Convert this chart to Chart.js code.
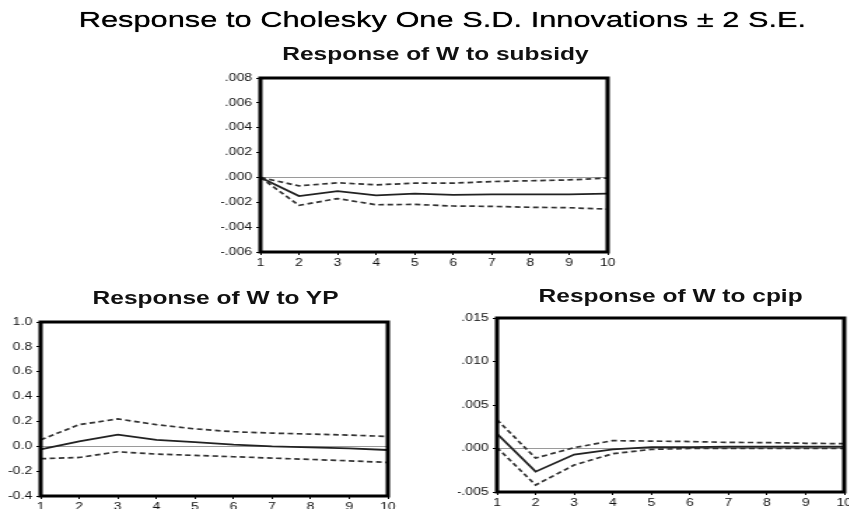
<!DOCTYPE html>
<html>
<head>
<meta charset="utf-8">
<script src="https://cdn.jsdelivr.net/npm/chart.js@4"></script>
<style>
  html, body { margin: 0; padding: 0; background: #fff; overflow: hidden; }
  #fig {
    position: absolute; left: 0; top: 0; width: 607px; height: 509px;
    transform: scaleX(1.4); transform-origin: 0 0; overflow: hidden;
    font-family: "Liberation Sans", Arial, sans-serif; color: #000;
  }
  .ttl { position: absolute; width: 600px; text-align: center; white-space: nowrap; }
  #main { font-size: 22px; line-height: 22px; text-shadow: 0 0 0.6px #000; }
  .sub { font-size: 17.5px; line-height: 17.5px; font-weight: bold; color: #111; }
  .box { position: absolute; width: 292px; height: 200px; }
</style>
</head>
<body>
<div id="fig">
  <div class="ttl" id="main" style="left:16px; top:9px;">Response to Cholesky One S.D. Innovations ± 2 S.E.</div>
  <div class="ttl sub" style="left:11px; top:46px;">Response of W to subsidy</div>
  <div class="ttl sub" style="left:-146px; top:290px;">Response of W to YP</div>
  <div class="ttl sub" style="left:179px; top:288px;">Response of W to cpip</div>
  <div class="box" style="left:158px; top:70px;"><canvas id="subsidy-chart" width="292" height="200"></canvas></div>
  <div class="box" style="left:1px; top:314px;"><canvas id="yp-chart" width="292" height="200"></canvas></div>
  <div class="box" style="left:327px; top:310px;"><canvas id="cpip-chart" width="292" height="200"></canvas></div>
</div>
<script>
const periods = ["1", "2", "3", "4", "5", "6", "7", "8", "9", "10"];

// Response of W to subsidy
const subsidyResp = [0, -0.0015, -0.0011, -0.00144, -0.0013, -0.0014, -0.00136, -0.00136, -0.00136, -0.0013];
const subsidyUpper = [0, -0.00068, -0.00043, -0.0006, -0.00046, -0.00046, -0.00033, -0.00027, -0.0002, -0.00005];
const subsidyLower = [0, -0.00225, -0.0017, -0.0022, -0.00217, -0.0023, -0.00233, -0.0024, -0.00244, -0.00255];
const subsidyTicks = [-0.006, -0.004, -0.002, 0, 0.002, 0.004, 0.006, 0.008];
const subsidyTickLabels = ["-.006", "-.004", "-.002", ".000", ".002", ".004", ".006", ".008"];

// Response of W to YP
const ypResp = [-0.025, 0.04, 0.093, 0.052, 0.033, 0.014, 0.0, -0.008, -0.016, -0.03];
const ypUpper = [0.052, 0.174, 0.22, 0.174, 0.14, 0.117, 0.106, 0.098, 0.09, 0.079];
const ypLower = [-0.1, -0.09, -0.044, -0.063, -0.073, -0.084, -0.095, -0.106, -0.117, -0.13];
const ypTicks = [-0.4, -0.2, 0, 0.2, 0.4, 0.6, 0.8, 1.0];
const ypTickLabels = ["-0.4", "-0.2", "0.0", "0.2", "0.4", "0.6", "0.8", "1.0"];

// Response of W to cpip
const cpipResp = [0.0017, -0.00266, -0.0007, -0.0001, 0.00015, 0.00015, 0.0002, 0.0002, 0.0002, 0.0002];
const cpipUpper = [0.0033, -0.0011, 0.0001, 0.0009, 0.00085, 0.0008, 0.0007, 0.00068, 0.0006, 0.00055];
const cpipLower = [0.0001, -0.0042, -0.0019, -0.0006, -0.0001, 0, 0, 0, 0, 0];
const cpipTicks = [-0.005, 0, 0.005, 0.010, 0.015];
const cpipTickLabels = ["-.005", ".000", ".005", ".010", ".015"];

Chart.defaults.font.family = '"Liberation Sans", Arial, sans-serif';
Chart.defaults.font.size = 10;
Chart.defaults.color = "#111";

// thick frame round the plot area, like the EViews panels
const frame = {
  id: "frame",
  afterDatasetsDraw(chart) {
    const { ctx, chartArea: a } = chart;
    ctx.save();
    ctx.strokeStyle = "#000";
    ctx.lineWidth = 3;
    ctx.strokeRect(a.left, a.top, a.right - a.left, a.bottom - a.top);
    ctx.restore();
  },
};

function makeChart(id, resp, upper, lower, tickVals, tickLabels) {
  const band = (data) => ({
    data,
    borderColor: "#333",
    borderWidth: 1.7,
    borderDash: [4, 2.5],
    pointRadius: 0,
    fill: false,
  });
  return new Chart(document.getElementById(id), {
    type: "line",
    data: {
      labels: periods,
      datasets: [
        { data: resp, borderColor: "#222", borderWidth: 1.8, pointRadius: 0, fill: false },
        band(upper),
        band(lower),
      ],
    },
    options: {
      responsive: false,
      animation: false,
      events: [],
      layout: { padding: { top: 8, right: 16, left: 0, bottom: 0 } },
      plugins: { legend: { display: false }, tooltip: { enabled: false } },
      scales: {
        x: {
          offset: false,
          border: { display: false },
          grid: { drawOnChartArea: false, tickLength: 3, color: "#000" },
          ticks: { maxRotation: 0, autoSkip: false, padding: 2 },
          afterFit: (s) => { s.height = 18; s.paddingLeft = 0; s.paddingRight = 0; },
        },
        y: {
          min: tickVals[0],
          max: tickVals[tickVals.length - 1],
          border: { display: false },
          grid: {
            color: (c) => (c.tick && c.tick.value === 0 ? "#9a9a9a" : "rgba(0,0,0,0)"),
            tickColor: "#000",
            tickLength: 3,
            lineWidth: 1,
          },
          afterBuildTicks: (s) => { s.ticks = tickVals.map((v) => ({ value: v })); },
          ticks: { padding: 3, callback: (v, i) => tickLabels[i] },
          afterFit: (s) => { s.width = 28; s.paddingTop = 0; s.paddingBottom = 0; },
        },
      },
    },
    plugins: [frame],
  });
}

makeChart("subsidy-chart", subsidyResp, subsidyUpper, subsidyLower, subsidyTicks, subsidyTickLabels);
makeChart("yp-chart", ypResp, ypUpper, ypLower, ypTicks, ypTickLabels);
makeChart("cpip-chart", cpipResp, cpipUpper, cpipLower, cpipTicks, cpipTickLabels);
</script>
</body>
</html>
